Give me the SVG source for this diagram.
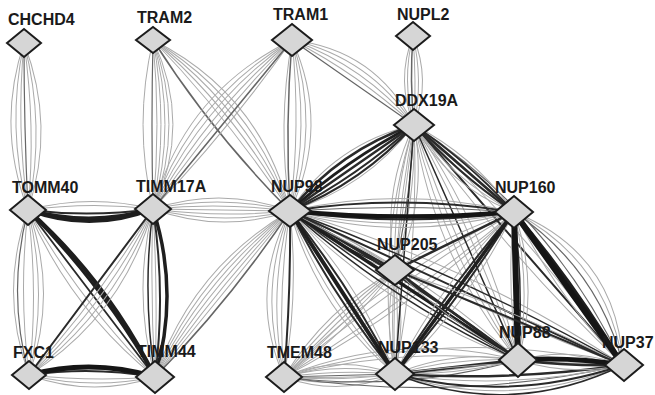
<svg xmlns="http://www.w3.org/2000/svg" width="655" height="395" viewBox="0 0 655 395">
<style>
path{fill:none;stroke-linecap:round}
.l{stroke:#aaaaaa;stroke-width:1}
.m{stroke:#666666;stroke-width:1.2}
.k{stroke:#2a2a2a;stroke-width:2}
.t{stroke:#1e1e1e;stroke-width:3.5}
.x{stroke:#151515;stroke-width:5.5}
.nd polygon{fill:#d6d6d6;stroke:#1c1c1c;stroke-width:2;stroke-linejoin:miter}
.nd text{font-family:"Liberation Sans",Arial,sans-serif;font-weight:bold;font-size:16px;fill:#1a1a1a}
</style>
<rect width="655" height="395" fill="#fff"/>
<g id="connectors">
<!-- CHCHD4-TOMM40 -->
<g transform="translate(24 43) rotate(88.63)"><path class="l" d="M0 0Q83.5 -30 167 0"/><path class="l" d="M0 0Q83.5 -20 167 0"/><path class="l" d="M0 0Q83.5 -10 167 0"/><path class="l" d="M0 0Q83.5 10 167 0"/><path class="l" d="M0 0Q83.5 20 167 0"/><path class="l" d="M0 0Q83.5 30 167 0"/><path class="m" d="M0 0Q83.5 2 167 0"/></g>
<!-- TRAM2-TIMM17A -->
<g transform="translate(153 40) rotate(90)"><path class="l" d="M0 0Q84.5 20 169 0"/><path class="l" d="M0 0Q84.5 -8 169 0"/><path class="l" d="M0 0Q84.5 -16 169 0"/><path class="l" d="M0 0Q84.5 -24 169 0"/><path class="l" d="M0 0Q84.5 -32 169 0"/><path class="l" d="M0 0Q84.5 -40 169 0"/><path class="m" d="M0 0Q84.5 2 169 0"/></g>
<!-- TRAM2-NUP98 -->
<g transform="translate(153 40) rotate(51.3)"><path class="l" d="M0 0Q109.5 -10 219 0"/><path class="l" d="M0 0Q109.5 -20 219 0"/><path class="l" d="M0 0Q109.5 -30 219 0"/><path class="l" d="M0 0Q109.5 -40 219 0"/><path class="l" d="M0 0Q109.5 -50 219 0"/><path class="m" style="stroke-width:1.5" d="M0 0Q109.5 12 219 0"/></g>
<!-- TRAM1-TIMM17A -->
<g transform="translate(292 40) rotate(129.44)"><path class="l" d="M0 0Q109.4 10 218.8 0"/><path class="l" d="M0 0Q109.4 20 218.8 0"/><path class="l" d="M0 0Q109.4 30 218.8 0"/><path class="l" d="M0 0Q109.4 40 218.8 0"/><path class="l" d="M0 0Q109.4 50 218.8 0"/><path class="l" d="M0 0Q109.4 -8 218.8 0"/><path class="m" style="stroke-width:1.5" d="M0 0L218.8 0"/></g>
<!-- TRAM1-NUP98 -->
<g transform="translate(292 40) rotate(90.67)"><path class="l" d="M0 0Q85.5 -10 171 0"/><path class="l" d="M0 0Q85.5 -20 171 0"/><path class="l" d="M0 0Q85.5 -30 171 0"/><path class="l" d="M0 0Q85.5 -40 171 0"/><path class="l" d="M0 0Q85.5 14 171 0"/><path class="m" style="stroke-width:1.5" d="M0 0Q85.5 6 171 0"/></g>
<!-- TRAM1-DDX19A -->
<g transform="translate(292 40) rotate(34.87)"><path class="l" d="M0 0Q74.3 -10 148.7 0"/><path class="l" d="M0 0Q74.3 -20 148.7 0"/><path class="l" d="M0 0Q74.3 -30 148.7 0"/><path class="l" d="M0 0Q74.3 -40 148.7 0"/><path class="m" d="M0 0L148.7 0"/></g>
<!-- NUPL2-DDX19A -->
<g transform="translate(413 36) rotate(89.36)"><path class="l" d="M0 0Q44.5 -18 89 0"/><path class="l" d="M0 0Q44.5 -10 89 0"/><path class="l" d="M0 0Q44.5 -3 89 0"/><path class="l" d="M0 0Q44.5 12 89 0"/><path class="l" d="M0 0Q44.5 18 89 0"/><path class="m" style="stroke-width:1.5" d="M0 0Q44.5 4 89 0"/></g>
<!-- TOMM40-TIMM17A -->
<g transform="translate(28 210) rotate(-0.46)"><path class="l" d="M0 0Q62.5 -8 125 0"/><path class="l" d="M0 0Q62.5 -16 125 0"/><path class="k" d="M0 0Q62.5 8 125 0"/><path class="t" style="stroke-width:4" d="M0 0Q62.5 18 125 0"/><path class="t" style="stroke-width:3" d="M0 0Q62.5 24 125 0"/></g>
<!-- TOMM40-FXC1 -->
<g transform="translate(28 210) rotate(89.65)"><path class="l" d="M0 0Q82.5 -30 165 0"/><path class="l" d="M0 0Q82.5 -20 165 0"/><path class="l" d="M0 0Q82.5 -10 165 0"/><path class="l" d="M0 0Q82.5 10 165 0"/><path class="l" d="M0 0Q82.5 30 165 0"/><path class="m" d="M0 0Q82.5 22 165 0"/></g>
<!-- TOMM40-TIMM44 -->
<g transform="translate(28 210) rotate(52.75)"><path class="l" d="M0 0Q104.9 14 209.8 0"/><path class="l" d="M0 0Q104.9 26 209.8 0"/><path class="k" style="stroke-width:1.8" d="M0 0L209.8 0"/><path class="t" style="stroke-width:3" d="M0 0Q104.9 -14 209.8 0"/><path class="t" style="stroke-width:4" d="M0 0Q104.9 -20 209.8 0"/></g>
<!-- TIMM17A-FXC1 -->
<g transform="translate(153 209) rotate(126.76)"><path class="l" d="M0 0Q103.6 -10 207.2 0"/><path class="l" d="M0 0Q103.6 -20 207.2 0"/><path class="l" d="M0 0Q103.6 -30 207.2 0"/><path class="l" d="M0 0Q103.6 -40 207.2 0"/><path class="k" d="M0 0L207.2 0"/></g>
<!-- TIMM17A-TIMM44 -->
<g transform="translate(153 209) rotate(89.32)"><path class="l" d="M0 0Q84 -4 168 0"/><path class="l" d="M0 0Q84 4 168 0"/><path class="l" d="M0 0Q84 22 168 0"/><path class="k" style="stroke-width:1.5" d="M0 0Q84 12 168 0"/><path class="k" d="M0 0Q84 -12 168 0"/><path class="t" d="M0 0Q84 -26 168 0"/></g>
<!-- FXC1-TIMM44 -->
<g transform="translate(29 375) rotate(0.91)"><path class="l" d="M0 0Q63 6 126 0"/><path class="l" d="M0 0Q63 14 126 0"/><path class="l" d="M0 0Q63 22 126 0"/><path class="k" d="M0 0Q63 -10 126 0"/><path class="x" style="stroke-width:5" d="M0 0Q63 -18 126 0"/></g>
<!-- TIMM17A-NUP98 -->
<g transform="translate(153 209) rotate(0.84)"><path class="l" d="M0 0Q68.5 -24 137 0"/><path class="l" d="M0 0Q68.5 -16 137 0"/><path class="l" d="M0 0Q68.5 -8 137 0"/><path class="l" d="M0 0L137 0"/><path class="l" d="M0 0Q68.5 8 137 0"/><path class="l" d="M0 0Q68.5 16 137 0"/><path class="l" d="M0 0Q68.5 24 137 0"/></g>
<!-- TIMM44-NUP98 -->
<g transform="translate(155 377) rotate(-50.88)"><path class="l" d="M0 0Q107 -40 214 0"/><path class="l" d="M0 0Q107 -32 214 0"/><path class="l" d="M0 0Q107 -24 214 0"/><path class="l" d="M0 0Q107 -16 214 0"/><path class="l" d="M0 0Q107 -8 214 0"/><path class="l" d="M0 0L214 0"/><path class="m" style="stroke-width:1.5" d="M0 0Q107 10 214 0"/></g>
<!-- TMEM48 bundles -->
<g transform="translate(284 377) rotate(-1.55)"><path class="l" d="M0 0Q55.5 -22 111 0"/><path class="l" d="M0 0Q55.5 -14 111 0"/><path class="l" d="M0 0Q55.5 -6 111 0"/><path class="l" d="M0 0Q55.5 6 111 0"/><path class="l" d="M0 0Q55.5 14 111 0"/><path class="l" d="M0 0Q55.5 22 111 0"/><path class="m" d="M0 0L111 0"/></g>
<g transform="translate(284 377) rotate(-4.16)"><path class="l" d="M0 0Q117.3 -22 234.6 0"/><path class="l" d="M0 0Q117.3 -38 234.6 0"/><path class="l" d="M0 0Q117.3 12 234.6 0"/><path class="m" d="M0 0Q117.3 24 234.6 0"/></g>
<g transform="translate(284 377) rotate(-2.03)"><path class="l" d="M0 0Q169.6 -46 339.2 0"/><path class="m" d="M0 0Q169.6 32 339.2 0"/></g>
<g transform="translate(284 377) rotate(-35.66)"><path class="l" d="M0 0Q141.5 -12 283.1 0"/><path class="l" d="M0 0Q141.5 -24 283.1 0"/><path class="l" d="M0 0Q141.5 10 283.1 0"/><path class="l" d="M0 0Q141.5 20 283.1 0"/></g>
<!-- NUP98-TMEM48 -->
<g transform="translate(290 211) rotate(92.07)"><path class="l" d="M0 0Q83 10 166.1 0"/><path class="l" d="M0 0Q83 20 166.1 0"/><path class="l" d="M0 0Q83 30 166.1 0"/><path class="l" d="M0 0Q83 40 166.1 0"/><path class="l" d="M0 0Q83 -12 166.1 0"/><path class="k" d="M0 0Q83 -4 166.1 0"/></g>
<!-- NUP205-TMEM48 -->
<g transform="translate(395 270) rotate(136.05)"><path class="l" d="M0 0Q77.1 -12 154.2 0"/><path class="l" d="M0 0Q77.1 -4 154.2 0"/><path class="l" d="M0 0Q77.1 4 154.2 0"/><path class="l" d="M0 0Q77.1 12 154.2 0"/><path class="l" d="M0 0Q77.1 20 154.2 0"/></g>
<!-- NUP205-NUP133 -->
<g transform="translate(395 270) rotate(90)"><path class="l" d="M0 0Q52 -12 104 0"/><path class="l" d="M0 0Q52 -5 104 0"/><path class="l" d="M0 0Q52 5 104 0"/><path class="l" d="M0 0Q52 12 104 0"/></g>
<!-- DDX19A-NUP205 -->
<g transform="translate(414 125) rotate(97.47)"><path class="l" d="M0 0Q73.1 -24 146.2 0"/><path class="l" d="M0 0Q73.1 -12 146.2 0"/><path class="l" d="M0 0L146.2 0"/><path class="l" d="M0 0Q73.1 12 146.2 0"/><path class="l" d="M0 0Q73.1 24 146.2 0"/><path class="m" d="M0 0Q73.1 -6 146.2 0"/></g>
<!-- DDX19A-NUP133 -->
<g transform="translate(414 125) rotate(94.36)"><path class="l" d="M0 0Q124.9 15 249.7 0"/><path class="l" d="M0 0Q124.9 30 249.7 0"/><path class="l" d="M0 0Q124.9 -15 249.7 0"/><path class="k" style="stroke-width:1.5" d="M0 0L249.7 0"/></g>
<!-- DDX19A-NUP88 -->
<g transform="translate(414 125) rotate(66.13)"><path class="l" d="M0 0Q128.5 -12 257 0"/><path class="l" d="M0 0Q128.5 -24 257 0"/><path class="l" d="M0 0Q128.5 12 257 0"/><path class="l" d="M0 0Q128.5 24 257 0"/><path class="l" d="M0 0Q128.5 36 257 0"/><path class="k" style="stroke-width:1.5" d="M0 0L257 0"/></g>
<!-- DDX19A-NUP37 -->
<g transform="translate(414 125) rotate(48.95)"><path class="l" d="M0 0Q159.1 -15 318.2 0"/><path class="l" d="M0 0Q159.1 -30 318.2 0"/><path class="l" d="M0 0Q159.1 15 318.2 0"/><path class="m" d="M0 0Q159.1 -45 318.2 0"/><path class="k" d="M0 0L318.2 0"/></g>
<!-- NUP98-DDX19A -->
<g transform="translate(290 211) rotate(-34.74)"><path class="l" d="M0 0Q75.5 -30 150.9 0"/><path class="l" d="M0 0Q75.5 24 150.9 0"/><path class="k" style="stroke-width:2.5" d="M0 0Q75.5 -22 150.9 0"/><path class="t" style="stroke-width:3" d="M0 0Q75.5 -10 150.9 0"/><path class="k" style="stroke-width:2.5" d="M0 0L150.9 0"/><path class="k" d="M0 0Q75.5 10 150.9 0"/><path class="k" d="M0 0Q75.5 18 150.9 0"/></g>
<!-- NUP98-NUP160 -->
<g transform="translate(290 211) rotate(0.26)"><path class="l" d="M0 0Q112 24 224 0"/><path class="l" d="M0 0Q112 32 224 0"/><path class="l" d="M0 0Q112 -26 224 0"/><path class="m" d="M0 0Q112 -8 224 0"/><path class="k" style="stroke-width:1.8" d="M0 0Q112 -18 224 0"/><path class="k" d="M0 0Q112 16 224 0"/><path class="x" style="stroke-width:4.5" d="M0 0Q112 10 224 0"/></g>
<!-- NUP98-NUP205 -->
<g transform="translate(290 211) rotate(29.33)"><path class="l" d="M0 0Q60.2 -8 120.4 0"/><path class="l" d="M0 0Q60.2 14 120.4 0"/><path class="k" style="stroke-width:1.5" d="M0 0Q60.2 8 120.4 0"/><path class="k" style="stroke-width:2.5" d="M0 0L120.4 0"/></g>
<!-- NUP98-NUP133 -->
<g transform="translate(290 211) rotate(57.21)"><path class="l" d="M0 0Q97 20 193.9 0"/><path class="l" d="M0 0Q97 30 193.9 0"/><path class="l" d="M0 0Q97 -20 193.9 0"/><path class="k" d="M0 0Q97 10 193.9 0"/><path class="k" d="M0 0Q97 -10 193.9 0"/><path class="t" style="stroke-width:4" d="M0 0L193.9 0"/></g>
<!-- NUP98-NUP88 -->
<g transform="translate(290 211) rotate(33.16)"><path class="l" d="M0 0Q136.2 -22 272.4 0"/><path class="l" d="M0 0Q136.2 30 272.4 0"/><path class="k" style="stroke-width:1.5" d="M0 0Q136.2 10 272.4 0"/><path class="k" style="stroke-width:1.5" d="M0 0Q136.2 20 272.4 0"/><path class="k" style="stroke-width:2.5" d="M0 0Q136.2 -10 272.4 0"/><path class="t" d="M0 0L272.4 0"/></g>
<!-- NUP98-NUP37 -->
<g transform="translate(290 211) rotate(24.82)"><path class="l" d="M0 0Q183.5 14 366.9 0"/><path class="l" d="M0 0Q183.5 -28 366.9 0"/><path class="k" style="stroke-width:1.5" d="M0 0Q183.5 -14 366.9 0"/><path class="k" d="M0 0L366.9 0"/></g>
<!-- DDX19A-NUP160 -->
<g transform="translate(414 125) rotate(41.02)"><path class="l" d="M0 0Q66.3 -16 132.5 0"/><path class="l" d="M0 0Q66.3 16 132.5 0"/><path class="l" d="M0 0Q66.3 24 132.5 0"/><path class="k" d="M0 0Q66.3 -8 132.5 0"/><path class="k" d="M0 0Q66.3 8 132.5 0"/><path class="k" style="stroke-width:2.5" d="M0 0L132.5 0"/></g>
<!-- NUP160-NUP205 -->
<g transform="translate(514 212) rotate(154.01)"><path class="l" d="M0 0Q66.2 10 132.4 0"/><path class="k" style="stroke-width:2.5" d="M0 0L132.4 0"/></g>
<!-- NUP160-NUP133 -->
<g transform="translate(514 212) rotate(126.3)"><path class="l" d="M0 0Q100.5 18 201 0"/><path class="l" d="M0 0Q100.5 -18 201 0"/><path class="k" d="M0 0Q100.5 8 201 0"/><path class="k" d="M0 0Q100.5 -8 201 0"/><path class="t" d="M0 0L201 0"/></g>
<!-- NUP160-NUP88 -->
<g transform="translate(514 212) rotate(88.45)"><path class="l" d="M0 0Q74 10 148.1 0"/><path class="l" d="M0 0Q74 -16 148.1 0"/><path class="l" d="M0 0Q74 -24 148.1 0"/><path class="k" style="stroke-width:1.5" d="M0 0Q74 -8 148.1 0"/><path class="x" style="stroke-width:6" d="M0 0L148.1 0"/></g>
<!-- NUP160-NUP37 -->
<g transform="translate(514 212) rotate(54.53)"><path class="l" d="M0 0Q94 -48 187.9 0"/><path class="l" d="M0 0Q94 -60 187.9 0"/><path class="l" d="M0 0Q94 14 187.9 0"/><path class="m" d="M0 0Q94 -36 187.9 0"/><path class="t" style="stroke-width:3" d="M0 0Q94 -8 187.9 0"/><path class="x" style="stroke-width:6" d="M0 0L187.9 0"/></g>
<!-- NUP205-NUP88 -->
<g transform="translate(395 270) rotate(36.19)"><path class="l" d="M0 0Q76.2 10 152.4 0"/><path class="k" style="stroke-width:2.5" d="M0 0L152.4 0"/></g>
<!-- NUP205-NUP37 -->
<g transform="translate(395 270) rotate(22.62)"><path class="l" d="M0 0Q123.5 -10 247 0"/><path class="k" d="M0 0L247 0"/></g>
<!-- NUP133-NUP88 -->
<g transform="translate(395 374) rotate(-6.49)"><path class="l" d="M0 0Q61.9 -10 123.8 0"/><path class="l" d="M0 0Q61.9 -18 123.8 0"/><path class="l" d="M0 0Q61.9 8 123.8 0"/><path class="k" style="stroke-width:3" d="M0 0L123.8 0"/></g>
<!-- NUP133-NUP37 -->
<g transform="translate(395 374) rotate(-2.26)"><path class="l" d="M0 0Q114.1 -12 228.2 0"/><path class="l" d="M0 0Q114.1 22 228.2 0"/><path class="l" d="M0 0Q114.1 42 228.2 0"/><path class="k" style="stroke-width:2.5" d="M0 0Q114.1 12 228.2 0"/><path class="k" d="M0 0Q114.1 34 228.2 0"/><path class="k" style="stroke-width:1.5" d="M0 0Q114.1 50 228.2 0"/></g>
<!-- NUP88-NUP37 -->
<g transform="translate(518 360) rotate(2.73)"><path class="l" d="M0 0Q52.5 -16 105.1 0"/><path class="l" d="M0 0Q52.5 14 105.1 0"/><path class="k" style="stroke-width:2.5" d="M0 0Q52.5 4 105.1 0"/><path class="x" style="stroke-width:5" d="M0 0Q52.5 -6 105.1 0"/></g>
</g>
<g id="node-CHCHD4" class="nd"><polygon points="7,43 24,29 41,43 24,57"/><text x="8" y="25">CHCHD4</text></g>
<g id="node-TRAM2" class="nd"><polygon points="136,40 153,27 170,40 153,53"/><text x="137" y="23">TRAM2</text></g>
<g id="node-TRAM1" class="nd"><polygon points="272,40 292,24 312,40 292,56"/><text x="273" y="20">TRAM1</text></g>
<g id="node-NUPL2" class="nd"><polygon points="396,36 413,22 430,36 413,50"/><text x="397" y="20">NUPL2</text></g>
<g id="node-DDX19A" class="nd"><polygon points="394,125 414,109 434,125 414,141"/><text x="395" y="106">DDX19A</text></g>
<g id="node-TOMM40" class="nd"><polygon points="10,210 28,195 46,210 28,225"/><text x="12" y="193">TOMM40</text></g>
<g id="node-TIMM17A" class="nd"><polygon points="135,209 153,194 171,209 153,224"/><text x="136" y="192">TIMM17A</text></g>
<g id="node-NUP98" class="nd"><polygon points="269,211 290,195 311,211 290,227"/><text x="271" y="192">NUP98</text></g>
<g id="node-NUP160" class="nd"><polygon points="495,212 514,196 533,212 514,228"/><text x="495" y="193">NUP160</text></g>
<g id="node-NUP205" class="nd"><polygon points="376,270 395,255 414,270 395,285"/><text x="377" y="250">NUP205</text></g>
<g id="node-FXC1" class="nd"><polygon points="12,375 29,361 46,375 29,389"/><text x="13" y="358">FXC1</text></g>
<g id="node-TIMM44" class="nd"><polygon points="136,377 155,361 174,377 155,393"/><text x="137" y="357">TIMM44</text></g>
<g id="node-TMEM48" class="nd"><polygon points="266,377 284,362 302,377 284,392"/><text x="267" y="358">TMEM48</text></g>
<g id="node-NUP133" class="nd"><polygon points="376,374 395,358 414,374 395,390"/><text x="378" y="353">NUP133</text></g>
<g id="node-NUP88" class="nd"><polygon points="499,360 518,343 537,360 518,377"/><text x="499" y="338">NUP88</text></g>
<g id="node-NUP37" class="nd"><polygon points="605,365 624,349 643,365 624,381"/><text x="602" y="348">NUP37</text></g>
</svg>
